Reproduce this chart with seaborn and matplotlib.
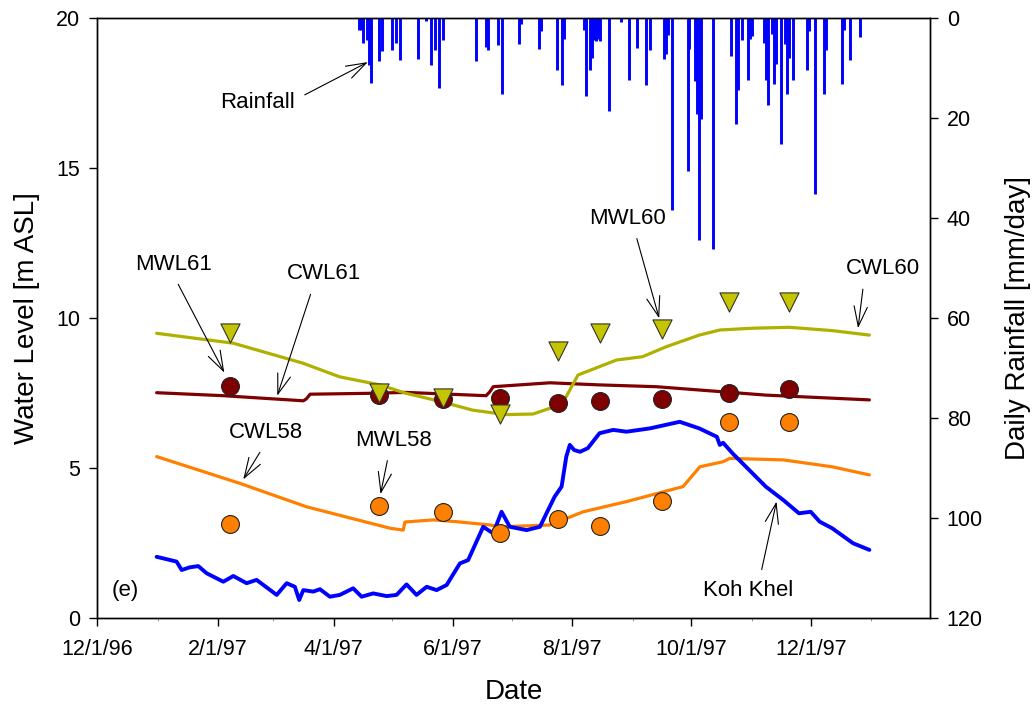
import numpy as np
import pandas as pd
import matplotlib
matplotlib.use("Agg")
import matplotlib.pyplot as plt
import matplotlib.dates as mdates
from matplotlib.ticker import FuncFormatter
import seaborn as sns

# ---------------- data ----------------
BASE = pd.Timestamp("1996-12-01")

# daily rainfall: day offset from 12/1/96, mm/day
rain_day = [134, 135, 136, 138, 139, 140, 144, 146, 151, 153, 155, 164, 168, 171, 173, 175, 177,
            194, 199, 200, 205, 207, 216, 217, 226, 227, 235, 238, 239, 249, 250, 252, 253, 254,
            255, 256, 257, 262, 268, 272, 276, 281, 283, 290, 291, 292, 294, 302, 303, 306, 307,
            308, 309, 315, 324, 327, 328, 330, 333, 334, 335, 341, 342, 343, 345, 346, 347, 350,
            352, 353, 354, 356, 363, 364, 367, 372, 373, 381, 382, 385, 390]
rain_mm = [2.3, 2.3, 5.0, 4.4, 9.4, 12.9, 8.5, 6.5, 6.3, 5.0, 8.4, 8.1, 0.6, 9.4, 6.3, 14.0, 4.3,
           8.5, 5.7, 6.3, 5.3, 15.2, 5.1, 1.2, 6.2, 2.5, 10.3, 13.4, 4.1, 2.3, 15.6, 10.3, 8.0, 4.4,
           4.6, 4.2, 4.5, 18.6, 0.7, 12.4, 5.9, 13.4, 6.3, 8.1, 7.2, 3.4, 38.4, 30.5, 6.1, 12.6, 19.1,
           44.4, 20.1, 46.1, 7.5, 21.1, 14.4, 4.3, 12.4, 4.2, 3.6, 4.9, 12.3, 17.4, 3.1, 13.1, 9.2, 25.2,
           5.2, 15.1, 7.9, 12.3, 10.3, 2.5, 35.1, 15.1, 6.3, 13.2, 2.3, 8.4, 3.7]

# Koh Khel observed water level (m ASL)
kk_day = [30.5, 40.7, 43.3, 47.5, 51.8, 56.1, 64.6, 69.7, 76.5, 81.6, 91.9, 97, 101.2, 103.4, 105.5,
          110.6, 114, 119.1, 124.2, 131, 135.3, 141.3, 148.1, 153.2, 158.3, 163.4, 168.6, 173.7,
          178.8, 185.6, 189.8, 197.5, 202.6, 206.9, 211.1, 219.7, 226.5, 234, 237.6, 240, 241.8,
          244, 247, 251, 257, 264, 270.8, 282.7, 298, 308, 317, 318.5, 320.2, 325, 342, 351, 359,
          365, 369.6, 376, 386.7, 395]
kk_val = [2.04, 1.88, 1.60, 1.69, 1.73, 1.49, 1.21, 1.40, 1.16, 1.27, 0.77, 1.16, 1.04, 0.60, 0.93,
          0.88, 0.96, 0.71, 0.77, 0.99, 0.71, 0.82, 0.73, 0.77, 1.12, 0.77, 1.04, 0.93,
          1.10, 1.82, 1.93, 3.04, 2.82, 3.54, 3.04, 2.93, 3.04, 4.04, 4.38, 5.38, 5.77,
          5.60, 5.54, 5.66, 6.16, 6.27, 6.21, 6.32, 6.54, 6.32, 6.04, 5.77, 5.84, 5.49, 4.38, 3.93, 3.49,
          3.54, 3.21, 2.99, 2.49, 2.27]

# computed water levels
c60_day = [30.5, 69.7, 105.5, 124, 144.7, 158, 175, 192, 209, 223, 231.6, 240, 242.7, 246, 265.7,
           279, 291, 308, 318.5, 335.5, 354, 376, 395]
c60_val = [9.49, 9.16, 8.49, 8.04, 7.77, 7.49, 7.23, 6.93, 6.78, 6.80, 6.99, 7.38, 7.71, 8.10, 8.60,
           8.71, 9.04, 9.43, 9.60, 9.66, 9.69, 9.58, 9.43]

c61_day = [30.5, 64.6, 105.5, 107, 109, 139.6, 158, 199, 201, 202.6, 231.6, 257, 286, 308, 342, 395]
c61_val = [7.51, 7.41, 7.24, 7.30, 7.46, 7.49, 7.52, 7.41, 7.55, 7.71, 7.84, 7.77, 7.71, 7.60, 7.43, 7.27]

c58_day = [30.5, 73, 107, 150, 156.6, 157.5, 172, 184, 201, 206, 231.6, 248.6, 270.8, 299.7, 308.3,
           320.2, 323.6, 351, 376, 395]
c58_val = [5.38, 4.49, 3.71, 2.99, 2.93, 3.20, 3.27, 3.21, 3.10, 3.04, 3.10, 3.54, 3.88, 4.38, 5.04,
           5.21, 5.32, 5.27, 5.04, 4.77]

# measured water levels
sample_dates = ["1997-02-07", "1997-04-24", "1997-05-27", "1997-06-25", "1997-07-25",
                "1997-08-15", "1997-09-16", "1997-10-20", "1997-11-20"]
mwl61 = [7.74, 7.43, 7.29, 7.32, 7.16, 7.23, 7.30, 7.50, 7.63]
mwl60 = [9.50, 7.50, 7.34, 6.80, 8.89, 9.50, 9.62, 10.53, 10.53]
mwl58 = [3.13, 3.74, 3.52, 2.82, 3.31, 3.08, 3.91, 6.52, 6.52]


def to_dates(days):
    return BASE + pd.to_timedelta(np.asarray(days, dtype=float), unit="D")


# ---------------- style ----------------
sns.set_theme(style="ticks")
plt.rcParams["font.family"] = ["Liberation Sans", "DejaVu Sans"]
plt.rcParams["axes.linewidth"] = 1.0

C_OLIVE = "#B0B000"
C_OLIVE_M = "#C4C400"
C_RED = "#7E0000"
C_ORANGE = "#FF8000"
C_BLUE = "#0000FF"

fig = plt.figure(figsize=(10.35, 7.07), dpi=100)
ax = fig.add_axes([97 / 1035, 1 - 618 / 707, (930 - 97) / 1035, (618 - 18) / 707])
ax2 = ax.twinx()

# lines
sns.lineplot(x=to_dates(c58_day), y=c58_val, ax=ax, color=C_ORANGE, lw=2.3, estimator=None, sort=False, zorder=2)
sns.lineplot(x=to_dates(c61_day), y=c61_val, ax=ax, color=C_RED, lw=2.3, estimator=None, sort=False, zorder=2)
sns.lineplot(x=to_dates(c60_day), y=c60_val, ax=ax, color=C_OLIVE, lw=2.3, estimator=None, sort=False, zorder=2)
sns.lineplot(x=to_dates(kk_day), y=kk_val, ax=ax, color=C_BLUE, lw=2.8, estimator=None, sort=False, zorder=3)

# measured points
sd = pd.to_datetime(sample_dates)
sns.scatterplot(x=sd, y=mwl61, ax=ax, marker="o", s=165, color=C_RED, edgecolor="#222222", linewidth=0.8, zorder=5)
sns.scatterplot(x=sd, y=mwl58, ax=ax, marker="o", s=165, color=C_ORANGE, edgecolor="#222222", linewidth=0.8, zorder=5)
sns.scatterplot(x=sd, y=mwl60, ax=ax, marker="v", s=190, color=C_OLIVE_M, edgecolor="#333333", linewidth=0.8, zorder=6)

# rainfall (right axis, inverted)
ax2.vlines(to_dates(rain_day), 0, rain_mm, colors=C_BLUE, lw=2.1)
ax2.set_ylim(120, 0)
ax2.set_yticks([0, 20, 40, 60, 80, 100, 120])

# axes limits / ticks
ax.set_xlim(BASE, pd.Timestamp("1998-01-31"))
ax.set_ylim(0, 20)
ax.set_yticks([0, 5, 10, 15, 20])
ax.xaxis.set_major_locator(mdates.MonthLocator(bymonth=[2, 4, 6, 8, 10, 12]))
ax.xaxis.set_minor_locator(mdates.MonthLocator())
ax.xaxis.set_major_formatter(FuncFormatter(
    lambda v, p: (lambda d: f"{d.month}/{d.day}/{d.strftime('%y')}")(mdates.num2date(v))))

for a in (ax, ax2):
    for s in a.spines.values():
        s.set_visible(True)
        s.set_color("black")
        s.set_linewidth(1.0)
ax.tick_params(axis="both", which="major", direction="out", length=6, width=1.0,
               labelsize=15.5, colors="black", pad=6)
ax.tick_params(axis="x", which="minor", direction="out", length=2, width=0.6, colors="#888888")
ax.tick_params(axis="x", pad=9)
ax2.tick_params(axis="y", direction="out", length=6, width=1.0, labelsize=15.5, colors="black", pad=6)

ax.set_xlabel("Date", fontsize=20, labelpad=14, color="black")
ax.set_ylabel("Water Level [m ASL]", fontsize=20, labelpad=12, color="black")
ax2.set_ylabel("Daily Rainfall [mm/day]", fontsize=20, labelpad=16, color="black", rotation=90)
ax.grid(False)
ax2.grid(False)


def d(x):
    return mdates.date2num(BASE + pd.Timedelta(days=x))


notes = [
    ("Rainfall", (138.5, 18.53), (82.3, 17.17), (1.0, 0.65)),
    ("MWL61", (65.1, 8.18), (39.0, 11.79), (0.5, 0.0)),
    ("CWL61", (92.2, 7.41), (116.2, 11.47), (0.36, 0.0)),
    ("CWL58", (74.8, 4.62), (86.2, 6.18), (0.5, 0.0)),
    ("MWL58", (145.0, 4.13), (151.5, 5.93), (0.45, 0.0)),
    ("MWL60", (287.5, 9.99), (271.5, 13.33), (0.58, 0.0)),
    ("CWL60", (389.2, 9.66), (401.8, 11.65), (0.25, 0.0)),
    ("Koh Khel", (347.5, 3.88), (332.8, 0.93), (0.63, 1.0)),
]
for txt, (tx, ty), (lx, ly), rp in notes:
    arrow = dict(arrowstyle="->,head_length=0.9,head_width=0.3", lw=0.8, color="black",
                 shrinkA=5, shrinkB=0, relpos=rp)
    ax.annotate(txt, xy=(d(tx), ty), xytext=(d(lx), ly), xycoords="data", textcoords="data",
                ha="center", va="center", fontsize=16, color="black", arrowprops=arrow, zorder=7)

ax.text(d(14.3), 0.93, "(e)", fontsize=16, ha="center", va="center", color="black")

fig.savefig("out.png", dpi=100)
